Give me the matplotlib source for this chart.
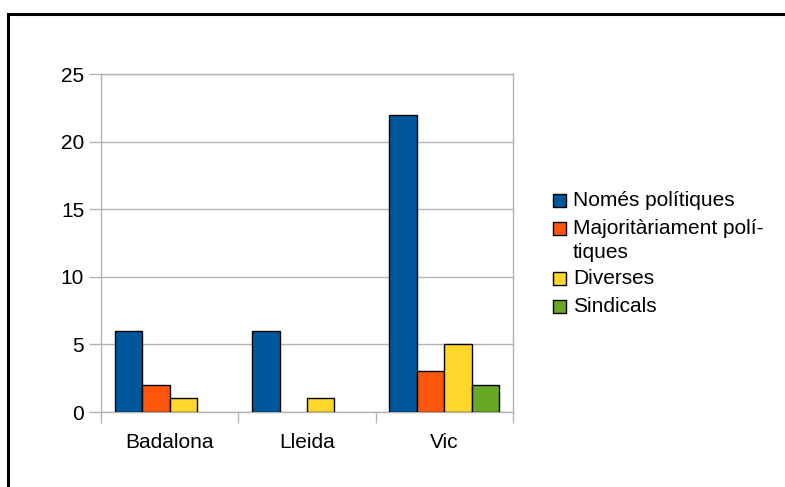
import numpy as np
import matplotlib.pyplot as plt
from matplotlib.patches import Rectangle

plt.rcParams['font.family'] = ['Liberation Sans', 'DejaVu Sans']

cities = ["Badalona", "Lleida", "Vic"]
series = ["Només polítiques", "Majoritàriament polí-\ntiques", "Diverses", "Sindicals"]
nomes = [6, 6, 22]
majorit = [2, 0, 3]
diverses = [1, 1, 5]
sindicals = [0, 0, 2]
colors = ["#00579b", "#ff560e", "#ffd62a", "#67a825"]

W, H = 785, 487
fig = plt.figure(figsize=(W / 100, H / 100), dpi=100)
ax = fig.add_axes([101 / W, 1 - 412 / H, 412 / W, 338 / H])

x = np.arange(len(cities))
bw = 0.2
for i, vals in enumerate([nomes, majorit, diverses, sindicals]):
    vals = np.array(vals, dtype=float)
    # skip empty categories so no flat outline is drawn
    heights = np.where(vals > 0, vals, np.nan)
    ax.bar(x - 0.3 + i * bw, heights, bw, color=colors[i], edgecolor="black",
           linewidth=1, label=series[i], zorder=3)

ax.set_xlim(-0.5, 2.5)
ax.set_ylim(0, 25)
ax.set_yticks([0, 5, 10, 15, 20, 25])
ax.yaxis.grid(True, color="#b3b3b3", linewidth=1, zorder=0)
ax.set_xticks(x)
ax.set_xticklabels(cities)
ax.set_xticks([-0.5, 0.5, 1.5, 2.5], minor=True)
ax.tick_params(axis="x", which="major", length=0, pad=15, labelsize=15)
ax.tick_params(axis="x", which="minor", length=8, color="#b3b3b3", width=1)
ax.tick_params(axis="y", length=8.5, color="#b3b3b3", width=1, pad=3.6, labelsize=15)
for s in ax.spines.values():
    s.set_color("#b3b3b3")
    s.set_linewidth(1)

# legend drawn by hand: square aligned with the first line of each label
row_y = [200, 228, 278, 306]
for lab, col, yy in zip(series, colors, row_y):
    fig.patches.append(Rectangle((553 / W, 1 - (yy + 6.5) / H), 13 / W, 13 / H,
                                 transform=fig.transFigure, facecolor=col,
                                 edgecolor="black", linewidth=1))
    fig.text(573 / W, 1 - (yy - 8.5) / H, lab, fontsize=15, va="top", ha="left",
             linespacing=1.32)

# black frame around the chart (cut at right and bottom edges)
fig.patches.append(Rectangle((8 / W, -0.1), 1.2, 1 - 14 / H + 0.1, transform=fig.transFigure,
                             fill=False, edgecolor="black", linewidth=2.2))

fig.savefig("out.png", dpi=100)
